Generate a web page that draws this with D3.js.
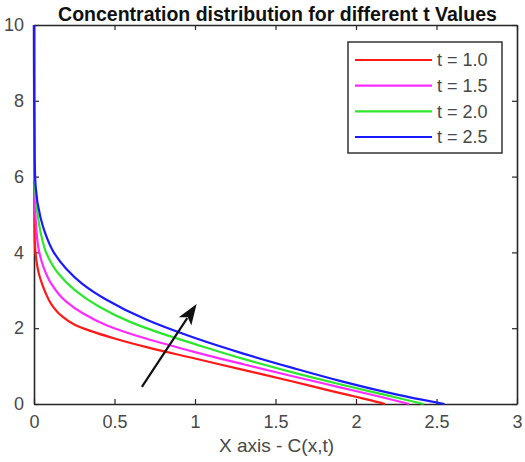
<!DOCTYPE html>
<html>
<head>
<meta charset="utf-8">
<script src="https://cdn.jsdelivr.net/npm/d3@7"></script>
<style>
  html, body { margin: 0; padding: 0; background: #fff; }
  svg { display: block; }
  text { font-family: "Liberation Sans", Arial, sans-serif; }
</style>
</head>
<body>
<svg id="chart" width="525" height="462"></svg>
<script>
// Concentration profiles: each series lists [C, y] pairs
const seriesNames = ["t = 1.0", "t = 1.5", "t = 2.0", "t = 2.5"];
const seriesColors = ["#ff1a1a", "#ff2bff", "#2fe62f", "#1a1aff"];

const curveT10 = [[0, 10], [0.001, 6.2], [0.003, 4.6], [0.008, 4.06], [0.036, 3.35], [0.07, 2.95], [0.105, 2.65],
  [0.17, 2.33], [0.25, 2.1], [0.35, 1.93], [0.5, 1.73], [0.7, 1.5], [1.0, 1.2], [1.3, 0.9], [1.6, 0.6],
  [1.85, 0.34], [2.0, 0.19], [2.1, 0.09], [2.18, 0]];
const curveT15 = [[0, 10], [0.001, 7.0], [0.004, 5.7], [0.01, 4.9], [0.03, 4.06], [0.06, 3.6], [0.105, 3.19],
  [0.2, 2.7], [0.3, 2.4], [0.45, 2.08], [0.7, 1.72], [1.0, 1.37], [1.3, 1.05], [1.6, 0.74], [1.9, 0.44],
  [2.15, 0.19], [2.33, 0]];
const curveT20 = [[0, 10], [0.001, 7.5], [0.004, 6.2], [0.01, 5.5], [0.025, 4.93], [0.045, 4.45], [0.08, 3.95],
  [0.15, 3.45], [0.25, 3.02], [0.4, 2.58], [0.6, 2.16], [0.8, 1.85], [1.0, 1.58], [1.3, 1.19], [1.6, 0.84],
  [1.9, 0.52], [2.2, 0.22], [2.42, 0]];
const curveT25 = [[0, 10], [0.001, 8.0], [0.004, 6.5], [0.01, 5.75], [0.04, 4.93], [0.07, 4.5], [0.12, 4.02],
  [0.2, 3.57], [0.3, 3.17], [0.45, 2.75], [0.7, 2.22], [1.0, 1.74], [1.3, 1.33], [1.6, 0.96], [1.9, 0.61],
  [2.2, 0.3], [2.4, 0.12], [2.55, 0]];
const curves = [curveT10, curveT15, curveT20, curveT25];

const xTicks = [0, 0.5, 1, 1.5, 2, 2.5, 3];
const yTicks = [0, 2, 4, 6, 8, 10];
const arrowFrom = [0.67, 0.45];
const arrowTo = [1.01, 2.64];

const svg = d3.select("#chart");
const plotLeft = 34, plotRight = 517, plotTop = 25, plotBottom = 404;

const x = d3.scaleLinear().domain([0, 3]).range([plotLeft, plotRight]);
const y = d3.scaleLinear().domain([0, 10]).range([plotBottom, plotTop]);

const axisColor = "#262626";
const labelColor = "#484848";

// Axes with inward ticks on all four sides
const fmtX = d => d3.format("~g")(d);
const bottomAxis = svg.append("g").attr("transform", `translate(0,${plotBottom})`)
  .call(d3.axisBottom(x).tickValues(xTicks).tickSizeInner(-5).tickSizeOuter(0).tickPadding(11).tickFormat(fmtX));
const topAxis = svg.append("g").attr("transform", `translate(0,${plotTop})`)
  .call(d3.axisTop(x).tickValues(xTicks).tickSizeInner(-5).tickSizeOuter(0).tickFormat(""));
const leftAxis = svg.append("g").attr("transform", `translate(${plotLeft},0)`)
  .call(d3.axisLeft(y).tickValues(yTicks).tickSizeInner(-5).tickSizeOuter(0).tickPadding(10));
const rightAxis = svg.append("g").attr("transform", `translate(${plotRight},0)`)
  .call(d3.axisRight(y).tickValues(yTicks).tickSizeInner(-5).tickSizeOuter(0).tickFormat(""));

[bottomAxis, topAxis, leftAxis, rightAxis].forEach(g => {
  g.select(".domain").attr("stroke", axisColor).attr("stroke-width", 1.6);
  g.selectAll(".tick line").attr("stroke", axisColor).attr("stroke-width", 1.2);
  g.selectAll(".tick text").attr("fill", labelColor).style("font-size", "18px")
    .style("font-family", "'Liberation Sans', Arial, sans-serif");
});

// Curves, drawn over the axes so the t = 2.5 profile covers the left edge
const line = d3.line().x(d => x(d[0])).y(d => y(d[1])).curve(d3.curveMonotoneY);
svg.append("g").selectAll("path").data(curves).join("path")
  .attr("d", line)
  .attr("fill", "none")
  .attr("stroke", (d, i) => seriesColors[i])
  .attr("stroke-width", 2.2);

// Title
svg.append("text")
  .attr("x", (plotLeft + plotRight) / 2 + 2).attr("y", 21)
  .attr("text-anchor", "middle")
  .style("font-size", "19.5px").style("font-weight", "bold")
  .attr("fill", "#111")
  .text("Concentration distribution for different t Values");

// X axis label
svg.append("text")
  .attr("x", (plotLeft + plotRight) / 2 + 1).attr("y", 452)
  .attr("text-anchor", "middle")
  .style("font-size", "19px")
  .attr("fill", labelColor)
  .text("X axis - C(x,t)");

// Arrow showing increasing t
const ax0 = x(arrowFrom[0]), ay0 = y(arrowFrom[1]);
const ax1 = x(arrowTo[0]), ay1 = y(arrowTo[1]);
const ang = Math.atan2(ay1 - ay0, ax1 - ax0);
const headLen = 21, headHalf = 7.5;
const bx = ax1 - headLen * Math.cos(ang), by = ay1 - headLen * Math.sin(ang);
svg.append("line")
  .attr("x1", ax0).attr("y1", ay0).attr("x2", bx + 4 * Math.cos(ang)).attr("y2", by + 4 * Math.sin(ang))
  .attr("stroke", "#111").attr("stroke-width", 2.2);
svg.append("path")
  .attr("d", `M${ax1},${ay1} L${bx + headHalf * Math.sin(ang)},${by - headHalf * Math.cos(ang)} L${bx + 5 * Math.cos(ang)},${by + 5 * Math.sin(ang)} L${bx - headHalf * Math.sin(ang)},${by + headHalf * Math.cos(ang)} Z`)
  .attr("fill", "#111");

// Legend
const legend = svg.append("g");
legend.append("rect")
  .attr("x", 348).attr("y", 42).attr("width", 154).attr("height", 111)
  .attr("fill", "#fff").attr("stroke", axisColor).attr("stroke-width", 1.4);
const rowY = d3.scalePoint().domain(seriesNames).range([60, 137]);
seriesNames.forEach((name, i) => {
  legend.append("line")
    .attr("x1", 355).attr("x2", 432)
    .attr("y1", rowY(name)).attr("y2", rowY(name))
    .attr("stroke", seriesColors[i]).attr("stroke-width", 2.2);
  legend.append("text")
    .attr("x", 437).attr("y", rowY(name)).attr("dy", "0.36em")
    .style("font-size", "18px")
    .attr("fill", labelColor)
    .text(name);
});
</script>
</body>
</html>
